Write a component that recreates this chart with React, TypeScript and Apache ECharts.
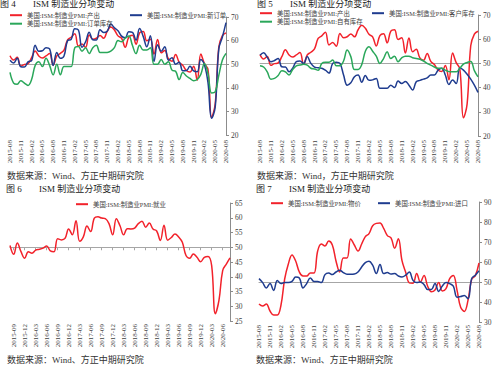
import React, { useEffect, useRef } from "react";
import * as echarts from "echarts";

// ---------- data ----------
const months: string[] = [];
for (let y = 2015, m = 8; y < 2020 || (y === 2020 && m <= 8); ) {
  months.push(`${y}-${String(m).padStart(2, "0")}`);
  m++;
  if (m > 12) { m = 1; y++; }
}

const production = [
  53.6, 51.8, 52.9, 49.2, 49.9,
  50.2, 52.8, 55.6, 53.5, 52.6, 53.5, 54.5, 49.6, 53.5, 54.6, 56.0, 60.3,
  61.4, 62.9, 57.6, 58.6, 57.1, 62.4, 60.6, 61.0, 62.2, 61.0, 63.9, 65.8,
  64.5, 62.0, 61.0, 57.2, 61.5, 62.3, 58.5, 63.3, 63.9, 59.9, 60.6, 54.3,
  60.5, 54.8, 55.8, 52.3, 51.3, 54.1, 50.8, 49.5, 47.3, 46.7, 49.1, 43.2,
  54.3, 50.3, 47.7, 27.5, 33.2, 57.3, 62.1, 63.3,
];
const newOrders = [
  51.7, 50.5, 52.5, 48.9, 48.8,
  51.0, 51.5, 58.0, 55.5, 55.7, 57.0, 56.5, 49.5, 55.0, 52.5, 53.5, 60.0,
  60.5, 65.0, 64.5, 57.2, 59.5, 63.5, 60.4, 60.3, 64.6, 63.4, 64.0, 67.0,
  65.4, 64.2, 61.9, 61.2, 63.7, 63.5, 60.2, 65.1, 61.8, 57.4, 62.1, 51.1,
  58.2, 55.5, 57.4, 51.7, 52.7, 50.0, 50.8, 47.2, 47.3, 49.1, 47.2, 46.8,
  52.0, 49.8, 42.2, 27.1, 31.8, 56.4, 61.5, 67.6,
];
const backlog = [
  46.5, 42, 41.5, 43, 42, 41, 43.5, 49.5, 51, 49,
  52.5, 49.5, 45.5, 50, 45.5, 49, 49, 49, 57, 57.5,
  55.5, 57, 54.5, 57, 58, 55, 55, 55, 55.5, 57,
  60, 59.5, 61, 62, 58, 54.5, 58, 56, 56, 57,
  50, 50, 52, 50, 51, 47.5, 47, 43.5, 46.5, 45,
  44, 43, 43.5, 45.7, 50.3, 45.9, 37.8, 38.3, 45.3, 51.8,
  54.6,
];
const customerInv = [
  53.4, 54.4, 52.5, 50.7, 51.2, 52, 48.6, 48.5, 46.5, 48,
  50.7, 51, 50, 52.8, 50, 48.5, 48.2, 48, 47.2, 46,
  50, 50.5, 50, 45.2, 41, 42, 44.5, 45.2, 42.2, 45,
  43, 43.2, 43.8, 39.7, 39.7, 39.7, 41, 40, 42.7, 41.7,
  42.5, 41, 39, 42.4, 43, 43.5, 44, 45.2, 45.2, 47.2,
  48, 45.2, 41.3, 43.1, 41.7, 48.2, 47.2, 45.5, 43.5, 41,
  38,
];
const ownInv = [
  49, 48.5, 46.5, 43.5, 43.8, 45, 47, 46.5, 45.2, 47.5,
  49, 49.3, 49.6, 49.3, 48, 47.7, 47.2, 50, 50.5, 50.5,
  51.4, 49, 49, 51, 55.5, 52.8, 47.5, 47.5, 49.5, 55,
  56.9, 55, 53, 50, 52, 54.8, 52, 53, 50.7, 52.3,
  53, 53, 52.3, 52, 51.7, 51, 50, 49.3, 48.5, 48,
  48, 47.2, 46.6, 46.5, 46.5, 48, 49.7, 50.4, 50.8, 47,
  44.4,
];
const employment = [
  50.6, 47.6, 51.4, 48.5, 46.3, 48.5, 48, 49, 49.3, 49.7,
  50.4, 48.8, 48.5, 52.9, 52.5, 53, 56.2, 54.2, 59, 52,
  53.5, 57.2, 55.3, 59.9, 60.3, 59.9, 59.7, 58, 54.2, 59.7,
  57.3, 54.2, 56.3, 56.2, 56.5, 58, 58.8, 56.8, 58.2, 56.2,
  55.5, 52.3, 57.5, 52.4, 53.3, 54.5, 53.5, 51.7, 47.2, 46.3,
  47.7, 46.6, 45.1, 46.6, 46.9, 43.8, 27.5, 32.1, 42.1, 44.3,
  46.4,
];
const prices = [
  39, 38, 39, 35.5, 33.5,
  33.5, 38.5, 51.5, 59, 63.5, 60.5, 55, 53, 53, 54.5, 54.5, 65.5,
  69, 68, 70.5, 68.5, 60.5, 55, 62, 62, 71.5, 68.5, 65.5, 69,
  72.7, 74.2, 78.1, 79.3, 79.5, 76.8, 73.2, 72.1, 66.9, 71.6, 60.7, 54.9,
  49.6, 49.4, 54.3, 50.0, 53.2, 47.9, 45.1, 46.0, 49.7, 45.5, 46.7, 51.7,
  53.3, 45.9, 37.4, 35.3, 40.8, 51.3, 53.2, 59.5,
];
const imports = [
  51.7, 49.7, 47, 49.2, 45.8, 50.8, 49.2, 49.7, 49.7, 50.3,
  52.5, 52, 47, 49.2, 52, 50.3, 50.3, 49.7, 53.7, 54.5,
  53.7, 55, 55.9, 54.7, 53.9, 53.9, 54, 55, 57.5, 59.7,
  60.4, 58.4, 54.2, 58.7, 54.2, 54.7, 54, 54.2, 53, 52.5,
  53.4, 55, 50.8, 49.7, 50, 48.7, 46.3, 46.3, 49.2, 45.3,
  48, 49.7, 49.2, 47.9, 42.4, 42.7, 43.3, 41.6, 51.7, 53.4,
  55.6,
];

const N_PROD = "美国:ISM:制造业PMI:产出";
const N_NEW = "美国:ISM:制造业PMI:新订单";
const N_BACK = "美国:ISM:制造业PMI:订单库存";
const N_CUST = "美国:ISM:制造业PMI:客户库存";
const N_OWN = "美国:ISM:制造业PMI:自有库存";
const N_EMP = "美国:ISM:制造业PMI:就业";
const N_PRICE = "美国:ISM:制造业PMI:物价";
const N_IMP = "美国:ISM:制造业PMI:进口";

const titleNums = ["图 4", "图 5", "图 6", "图 7"];
const titleText = "ISM 制造业分项变动";
const sourceA = "数据来源：Wind、方正中期研究院";
const sourceB = "数据来源：Wind，方正中期研究院";

const RED = "#f2222b";
const BLUE = "#1f3c8f";
const GREEN = "#2aa75a";
const SERIF = "'Liberation Serif','Noto Sans CJK SC',serif";

export default function App() {
  const ref = useRef<HTMLDivElement>(null);
  useEffect(() => {
    if (!ref.current) return;
    const chart = echarts.init(ref.current, undefined, { renderer: "svg" });

    const panels = [
      { left: 10, top: 17, width: 216, height: 118, min: 20, max: 70, interval: 10, labelMod: 0, margin: 5, ticks50: false },
      { left: 260, top: 15, width: 218, height: 121, min: 20, max: 70, interval: 10, labelMod: 0, margin: 4, ticks50: false },
      { left: 10, top: 203, width: 220, height: 118, min: 25, max: 65, interval: 5, labelMod: 1, margin: 3, ticks50: true },
      { left: 259, top: 202, width: 220, height: 120, min: 30, max: 90, interval: 10, labelMod: 0, margin: 3, ticks50: false },
    ];

    const grid = panels.map((p) => ({ left: p.left, top: p.top, width: p.width, height: p.height, containLabel: false }));
    const xAxis: any[] = [];
    const yAxis: any[] = [];
    panels.forEach((p, k) => {
      const showIdx = (i: number) => i % 3 === p.labelMod;
      xAxis.push({
        type: "category", gridIndex: k, data: months, boundaryGap: false,
        axisLine: { show: false }, axisTick: { show: false },
        axisLabel: {
          rotate: 90, fontSize: 7, margin: p.margin, color: "#404040", fontFamily: SERIF,
          interval: (i: number) => showIdx(i),
        },
      });
      xAxis.push({
        type: "category", gridIndex: k, data: months, boundaryGap: false, position: "bottom",
        offset: -(p.height * (50 - p.min)) / (p.max - p.min),
        axisLine: { show: true, lineStyle: { color: "#a6a6a6", width: 1 } },
        axisTick: { show: p.ticks50, length: 3, lineStyle: { color: "#a6a6a6" }, interval: (i: number) => showIdx(i) },
        axisLabel: { show: false },
      });
      yAxis.push({
        type: "value", gridIndex: k, position: "right", min: p.min, max: p.max, interval: p.interval,
        axisLine: { show: true, lineStyle: { color: "#8c8c8c" } },
        axisTick: { show: true, length: 3, lineStyle: { color: "#8c8c8c" } },
        axisLabel: { fontSize: 7.5, margin: 5, color: "#404040", fontFamily: SERIF },
        splitLine: { show: false },
      });
    });

    const mk = (name: string, data: number[], color: string, k: number) => ({
      name, type: "line", data, xAxisIndex: 2 * k, yAxisIndex: k,
      symbol: "none", smooth: 0.4, lineStyle: { color, width: 1.5 }, itemStyle: { color },
    });

    const series = [
      mk(N_PROD, production, RED, 0),
      mk(N_NEW, newOrders, BLUE, 0),
      mk(N_BACK, backlog, GREEN, 0),
      mk(N_PROD, production, RED, 1),
      mk(N_CUST, customerInv, BLUE, 1),
      mk(N_OWN, ownInv, GREEN, 1),
      mk(N_EMP, employment, RED, 2),
      mk(N_PRICE, prices, RED, 3),
      mk(N_IMP, imports, BLUE, 3),
    ];

    const lg = (name: string, left: number, top: number) => ({
      data: [name], left, top, padding: 0, icon: "rect", itemWidth: 12, itemHeight: 2,
      selectedMode: false,
      textStyle: { fontSize: 6.4, color: "#404040", fontFamily: SERIF },
    });
    const legend = [
      lg(N_PROD, 10, 12), lg(N_NEW, 130, 12), lg(N_BACK, 10, 20.5),
      lg(N_PROD, 260, 10), lg(N_CUST, 372, 10), lg(N_OWN, 260, 18.5),
      lg(N_EMP, 76, 201),
      lg(N_PRICE, 271, 200), lg(N_IMP, 378, 200),
    ];

    const titlePos = [ [0, 4], [257, 4], [6, 189], [256, 189] ];
    const graphic: any[] = [];
    titlePos.forEach(([x, y], i) => {
      graphic.push({ type: "text", left: x, top: y - 5, style: { text: titleNums[i], fontSize: 9, fill: "#222", fontFamily: SERIF } });
      graphic.push({ type: "text", left: x + 33, top: y - 5, style: { text: titleText, fontSize: 9, fill: "#222", fontFamily: SERIF } });
    });
    const srcPos: [number, number, string][] = [ [7, 176, sourceA], [257, 176, sourceB], [7, 360, sourceA], [256, 360, sourceA] ];
    srcPos.forEach(([x, y, t]) => {
      graphic.push({ type: "text", left: x, top: y - 5, style: { text: t, fontSize: 9, fill: "#333", fontFamily: SERIF } });
    });

    chart.setOption({
      animation: false,
      backgroundColor: "#ffffff",
      grid, xAxis, yAxis, series, legend, graphic,
    });
    return () => chart.dispose();
  }, []);
  return <div ref={ref} style={{ position: "fixed", left: 0, top: 0, width: 500, height: 368 }} />;
}
